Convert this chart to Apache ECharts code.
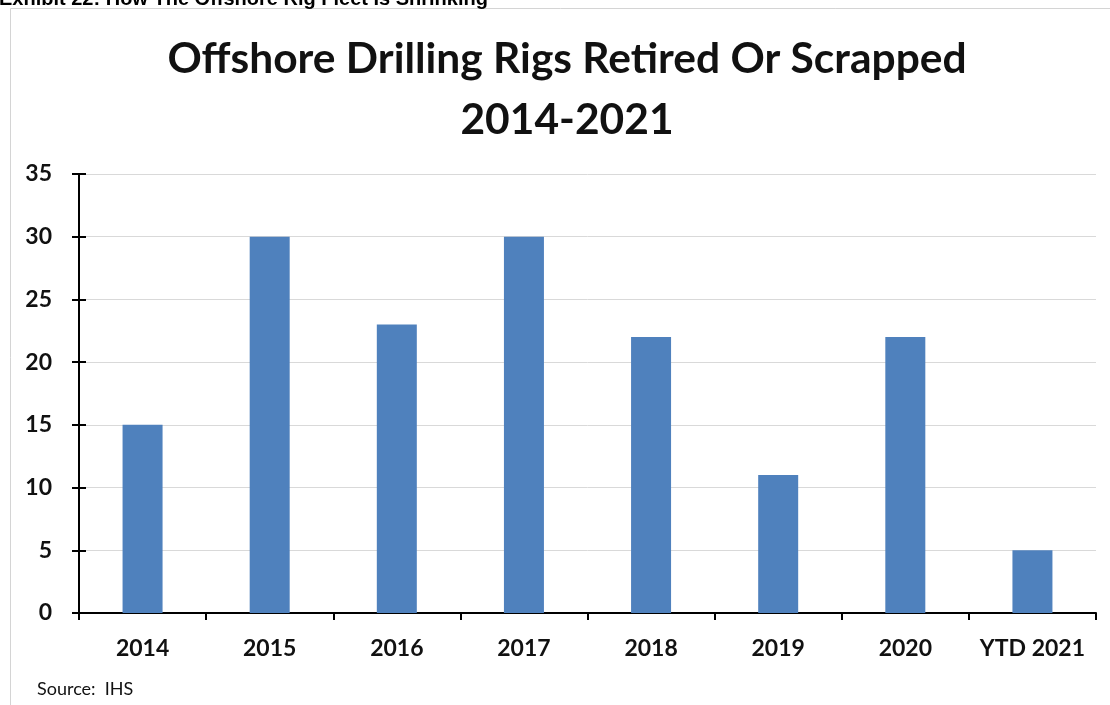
<!DOCTYPE html>
<html>
<head>
<meta charset="utf-8">
<script src="https://cdn.jsdelivr.net/npm/echarts@6/dist/echarts.min.js"></script>
<style>
  html, body { margin: 0; padding: 0; background: #ffffff; }
  #chart { width: 1110px; height: 705px; }
</style>
</head>
<body>
<div id="chart"></div>
<script>
// Rigs retired or scrapped per year
const categories = ['2014', '2015', '2016', '2017', '2018', '2019', '2020', 'YTD 2021'];
const rigsRetired = [15, 30, 23, 30, 22, 11, 22, 5];
const yTicks = { min: 0, max: 35, interval: 5 };

const chart = echarts.init(document.getElementById('chart'), null, { renderer: 'canvas' });

const labelFont = 'Lato, "Open Sans", sans-serif';

chart.setOption({
  animation: false,
  backgroundColor: '#ffffff',
  grid: { left: 79, right: 14, top: 174, bottom: 92, containLabel: false },
  graphic: [
    {
      type: 'text', left: -1, top: -11, z: 10,
      style: {
        text: 'Exhibit 22: How The Offshore Rig Fleet Is Shrinking',
        font: 'bold 20px "Liberation Sans", Arial, sans-serif',
        fill: '#000000'
      }
    },
    {
      type: 'rect', z: -1,
      shape: { x: 10.5, y: 8.5, width: 1120, height: 720 },
      style: { fill: '#ffffff', stroke: '#d4d4d4', lineWidth: 1 }
    },
    {
      type: 'text', x: 567, y: 59, z: 10,
      style: {
        text: 'Offshore Drilling Rigs Retired Or Scrapped',
        font: 'bold 42.5px ' + labelFont,
        fill: '#111111', align: 'center', verticalAlign: 'middle'
      }
    },
    {
      type: 'text', x: 567, y: 120, z: 10,
      style: {
        text: '2014-2021',
        font: 'bold 42.5px ' + labelFont,
        fill: '#111111', align: 'center', verticalAlign: 'middle'
      }
    },
    {
      type: 'text', x: 37, y: 689, z: 10,
      style: {
        text: 'Source:  IHS',
        font: '18px ' + labelFont,
        fill: '#111111', align: 'left', verticalAlign: 'middle'
      }
    }
  ],
  xAxis: {
    type: 'category',
    data: categories,
    boundaryGap: true,
    axisLine: { show: true, lineStyle: { color: '#000000', width: 2 } },
    axisTick: { show: true, length: 7, alignWithLabel: false, interval: 0, lineStyle: { color: '#000000', width: 2 } },
    axisLabel: {
      interval: 0, margin: 24, color: '#111111',
      fontFamily: labelFont, fontWeight: 'bold', fontSize: 23
    },
    splitLine: { show: false }
  },
  yAxis: [
    {
      type: 'value',
      min: yTicks.min, max: yTicks.max, interval: yTicks.interval,
      axisLine: { show: true, lineStyle: { color: '#000000', width: 2 } },
      axisTick: { show: true, length: 7, lineStyle: { color: '#000000', width: 2 } },
      axisLabel: {
        margin: 27, color: '#111111',
        fontFamily: labelFont, fontWeight: 'bold', fontSize: 23
      },
      splitLine: { show: true, lineStyle: { color: '#d9d9d9', width: 1 } }
    },
    {
      // inner half of the crossing tick marks on the value axis
      type: 'value', position: 'left',
      min: yTicks.min, max: yTicks.max, interval: yTicks.interval,
      axisLine: { show: false },
      axisTick: { show: true, inside: true, length: 7, lineStyle: { color: '#000000', width: 2 } },
      axisLabel: { show: false },
      splitLine: { show: false }
    }
  ],
  series: [
    {
      type: 'bar',
      data: rigsRetired,
      yAxisIndex: 0,
      barWidth: 40,
      itemStyle: { color: '#4f81bd' }
    }
  ]
});
</script>
</body>
</html>
